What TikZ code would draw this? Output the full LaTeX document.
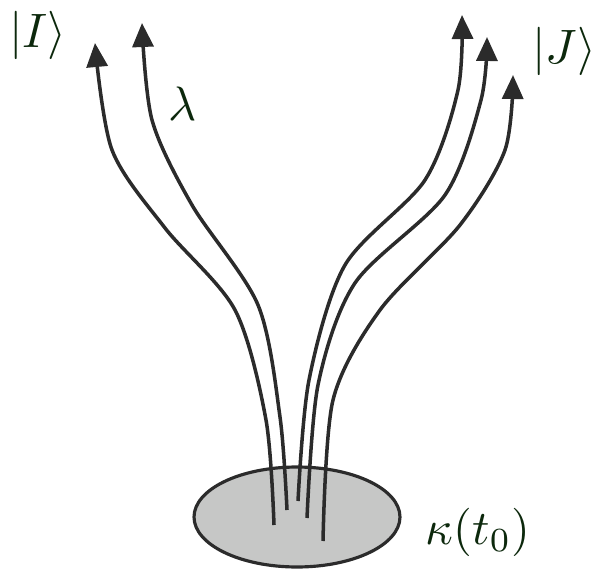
\documentclass[tikz,border=0pt]{standalone}
\usepackage{amsmath, amssymb}
\usepackage{tikz}
\usetikzlibrary{shapes.geometric, arrows.meta}

\definecolor{inkgray}{RGB}{43,43,43}
\definecolor{poolgray}{RGB}{198,199,198}
\definecolor{labelgreen}{RGB}{12,40,12}

\newcommand{\biglbl}[1]{\scalebox{2.75}{$#1$}}

\tikzset{
  flow/.style={inkgray, line width=2pt, -{Triangle[length=0.48cm, width=0.42cm]}},
  lbl/.style={labelgreen, inner sep=0pt}
}

\begin{document}
\begin{tikzpicture}[x=0.02cm, y=-0.02cm]
	\useasboundingbox (0,0) rectangle (594,570);
	
	\node[ellipse,draw=inkgray,line width=1.8pt,fill=poolgray,minimum width=4.12cm,minimum height=2cm,inner sep=0pt] (pool) at (297,517) {};
	
	% start points inside the set, tips at the top
	\coordinate (s1) at (274,525);
	\coordinate (s2) at (287,510);
	\coordinate (s3) at (298,501);
	\coordinate (s4) at (307,518);
	\coordinate (s5) at (323,541);
	\coordinate (t1) at (95,43);
	\coordinate (t2) at (142,23);
	\coordinate (t3) at (462,15);
	\coordinate (t4) at (487,37);
	\coordinate (t5) at (513,75);
	
	\draw[flow] plot[smooth] coordinates {(s1) (266,420) (235,310) (165,228) (112,150) (t1)};
	\draw[flow] plot[smooth] coordinates {(s2) (280,417) (258,305) (192,205) (152,120) (t2)};
	\draw[flow] plot[smooth] coordinates {(s3) (309,380) (345,265) (425,180) (458,90) (t3)};
	\draw[flow] plot[smooth] coordinates {(s4) (318,385) (355,283) (445,195) (481,100) (t4)};
	\draw[flow] plot[smooth] coordinates {(s5) (333,400) (380,310) (460,225) (505,150) (t5)};
	
	\node[lbl] (ketI) at (38,35) {\biglbl{|I\rangle}};
	\node[lbl] (lam) at (183,104) {\biglbl{\lambda}};
	\node[lbl] (ketJ) at (564,51) {\biglbl{|J\rangle}};
	\node[lbl] (kappa) at (478,532) {\biglbl{\kappa(t_0)}};
	
\end{tikzpicture}
\end{document}
